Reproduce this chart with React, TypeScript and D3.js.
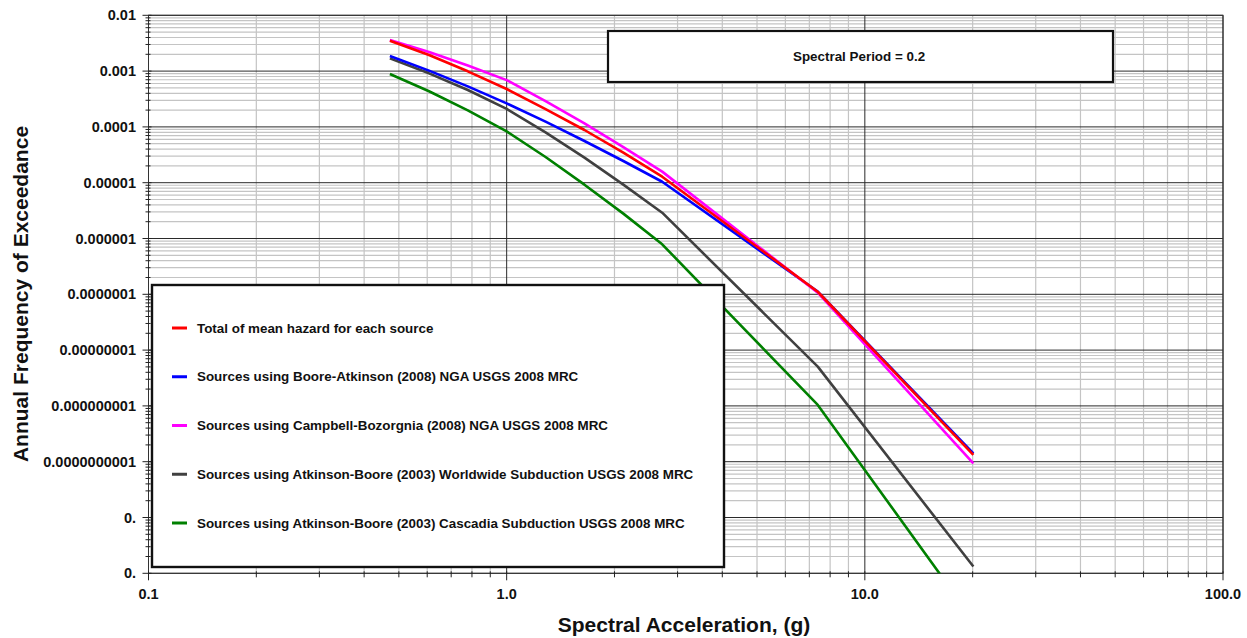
import React from 'react';
import * as d3 from 'd3';

// spectral acceleration (g)
const accel = [0.472, 0.607, 0.779, 1.0, 1.284, 1.649, 2.117, 2.718, 7.389, 20.09];

const totalMean = [3.51e-3, 1.94e-3, 9.91e-4, 4.78e-4, 2.09e-4, 8.8e-5, 3.45e-5, 1.28e-5, 1.11e-7, 1.32e-10];
const booreAtkinson = [1.87e-3, 1.02e-3, 5.33e-4, 2.64e-4, 1.24e-4, 5.58e-5, 2.45e-5, 1.04e-5, 1.12e-7, 1.41e-10];
const campbellBozorgnia = [3.61e-3, 2.2e-3, 1.26e-3, 6.9e-4, 2.9e-4, 1.16e-4, 4.35e-5, 1.58e-5, 1.07e-7, 9.3e-11];
const abWorldwide = [1.69e-3, 9.12e-4, 4.59e-4, 2.1e-4, 7.99e-5, 2.81e-5, 9.22e-6, 2.9e-6, 5.05e-9, 1.32e-12];
const abCascadia = [8.87e-4, 4.35e-4, 1.98e-4, 8.3e-5, 2.89e-5, 9.22e-6, 2.79e-6, 7.87e-7, 1.04e-9, 1.44e-13];

const seriesNames = [
  'Total of mean hazard for each source',
  'Sources using Boore-Atkinson (2008) NGA USGS 2008 MRC',
  'Sources using Campbell-Bozorgnia (2008) NGA USGS 2008 MRC',
  'Sources using Atkinson-Boore (2003) Worldwide Subduction USGS 2008 MRC',
  'Sources using Atkinson-Boore (2003) Cascadia Subduction USGS 2008 MRC',
];
const seriesValues = [totalMean, booreAtkinson, campbellBozorgnia, abWorldwide, abCascadia];
const seriesColors = ['#ff0000', '#0000ff', '#ff00ff', '#404040', '#008000'];
// draw order: back to front
const drawOrder = [4, 3, 1, 2, 0];

const yTickValues = [1e-2, 1e-3, 1e-4, 1e-5, 1e-6, 1e-7, 1e-8, 1e-9, 1e-10, 1e-11, 1e-12];
const yTickLabels = ['0.01', '0.001', '0.0001', '0.00001', '0.000001', '0.0000001', '0.00000001',
  '0.000000001', '0.0000000001', '0.', '0.'];
const xTickValues = [0.1, 1, 10, 100];
const xTickLabels = ['0.1', '1.0', '10.0', '100.0'];

const W = 1247;
const H = 638;
const margin = { left: 148.5, right: 1223, top: 15.3, bottom: 573.3 };
const font = '"Liberation Sans", Arial, sans-serif';

export default function App() {
  const x = d3.scaleLog().domain([0.1, 100]).range([margin.left, margin.right]);
  const y = d3.scaleLog().domain([1e-2, 1e-12]).range([margin.top, margin.bottom]);

  const xMinor: number[] = [];
  for (let d = 0.1; d < 100; d *= 10) for (let m = 2; m <= 9; m++) xMinor.push(d * m);
  const yMinor: number[] = [];
  for (let d = 1e-12; d < 1e-2; d *= 10) for (let m = 2; m <= 9; m++) yMinor.push(d * m);

  const line = d3.line<[number, number]>()
    .x(d => x(d[0]))
    .y(d => y(d[1]));

  const legendRowY = d3.scaleLinear().domain([0, 4]).range([328, 523]);

  return (
    <svg width={W} height={H} style={{ position: 'absolute', left: 0, top: 0, background: '#fff' }}
      fontFamily={font}>
      <defs>
        <clipPath id="plot-clip">
          <rect x={margin.left} y={margin.top} width={margin.right - margin.left}
            height={margin.bottom - margin.top} />
        </clipPath>
      </defs>

      {/* minor grid */}
      <g stroke="#c4c4c4" strokeWidth={1.2}>
        {xMinor.map((v, i) => (
          <line key={'xm' + i} x1={x(v)} x2={x(v)} y1={margin.top} y2={margin.bottom} />
        ))}
        {yMinor.map((v, i) => (
          <line key={'ym' + i} x1={margin.left} x2={margin.right} y1={y(v)} y2={y(v)} />
        ))}
      </g>
      {/* major grid */}
      <g stroke="#2a2a2a" strokeWidth={1}>
        {xTickValues.map((v, i) => (
          <line key={'xM' + i} x1={x(v)} x2={x(v)} y1={margin.top} y2={margin.bottom} />
        ))}
        {yTickValues.map((v, i) => (
          <line key={'yM' + i} x1={margin.left} x2={margin.right} y1={y(v)} y2={y(v)} />
        ))}
      </g>
      <rect x={margin.left} y={margin.top} width={margin.right - margin.left}
        height={margin.bottom - margin.top} fill="none" stroke="#333" strokeWidth={1} />

      {/* axis ticks */}
      <g stroke="#222" strokeWidth={1}>
        {yTickValues.map((v, i) => (
          <line key={'yt' + i} x1={margin.left - 6} x2={margin.left + 3} y1={y(v)} y2={y(v)} />
        ))}
        {yMinor.map((v, i) => (
          <line key={'ytm' + i} x1={margin.left - 3} x2={margin.left + 2} y1={y(v)} y2={y(v)} />
        ))}
        {xTickValues.map((v, i) => (
          <line key={'xt' + i} x1={x(v)} x2={x(v)} y1={margin.bottom - 2} y2={margin.bottom + 7} />
        ))}
        {xMinor.map((v, i) => (
          <line key={'xtm' + i} x1={x(v)} x2={x(v)} y1={margin.bottom - 2} y2={margin.bottom + 4} />
        ))}
      </g>

      {/* tick labels */}
      <g fontSize={14.5} fontWeight="bold" fill="#111">
        {yTickValues.map((v, i) => (
          <text key={'yl' + i} x={136} y={y(v)} textAnchor="end" dominantBaseline="central">
            {yTickLabels[i]}
          </text>
        ))}
        {xTickValues.map((v, i) => (
          <text key={'xl' + i} x={x(v)} y={594} textAnchor="middle" dominantBaseline="central">
            {xTickLabels[i]}
          </text>
        ))}
      </g>

      {/* axis titles */}
      <text x={684} y={624} textAnchor="middle" dominantBaseline="central" fontSize={21}
        fontWeight="bold" fill="#111">Spectral Acceleration, (g)</text>
      <text transform="translate(20,294) rotate(-90)" textAnchor="middle" dominantBaseline="central"
        fontSize={21} fontWeight="bold" fill="#111">Annual Frequency of Exceedance</text>

      {/* curves */}
      <g clipPath="url(#plot-clip)" fill="none" strokeWidth={2.6} strokeLinejoin="round">
        {drawOrder.map(si => (
          <path key={'s' + si}
            d={line(accel.map((a, j) => [a, seriesValues[si][j]] as [number, number])) || ''}
            stroke={seriesColors[si]} />
        ))}
      </g>

      {/* title box */}
      <rect x={608} y={31} width={505} height={51} fill="#fff" stroke="#111" strokeWidth={2.2} />
      <text x={793} y={56} dominantBaseline="central" fontSize={13.4} fontWeight="bold" fill="#111">
        Spectral Period = 0.2
      </text>

      {/* legend */}
      <rect x={152} y={285} width={572} height={282} fill="#fff" stroke="#111" strokeWidth={2.4} />
      {seriesNames.map((name, i) => (
        <g key={'lg' + i}>
          <line x1={172} x2={187} y1={legendRowY(i)} y2={legendRowY(i)} stroke={seriesColors[i]}
            strokeWidth={3} />
          <text x={197} y={legendRowY(i)} dominantBaseline="central" fontSize={13.4}
            fontWeight="bold" fill="#111">{name}</text>
        </g>
      ))}
    </svg>
  );
}
